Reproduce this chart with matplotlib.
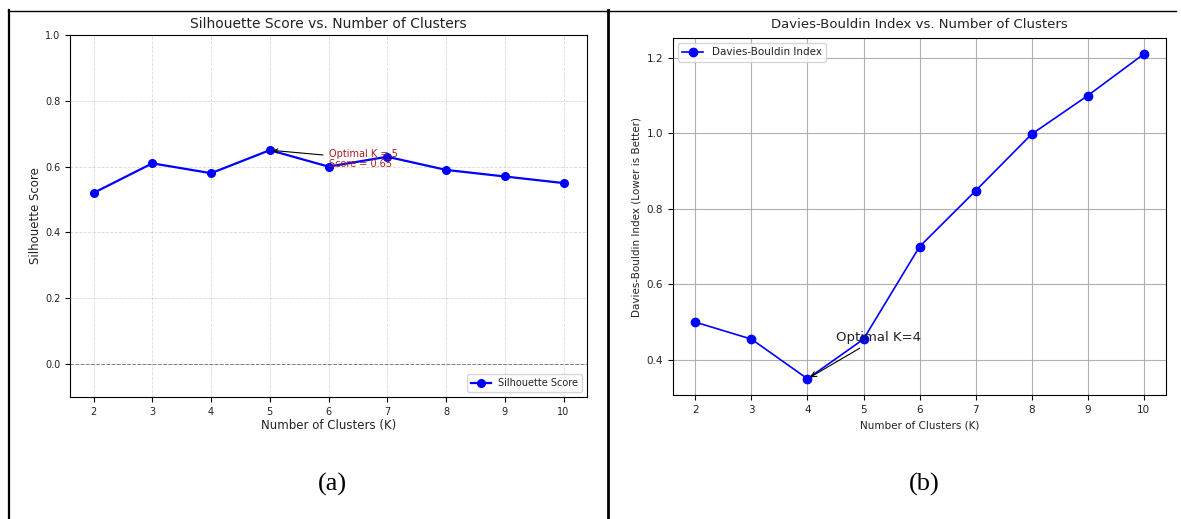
import matplotlib
matplotlib.use('Agg')
import matplotlib.pyplot as plt
from matplotlib.lines import Line2D

# ---- 数据 ----
k_values = [2, 3, 4, 5, 6, 7, 8, 9, 10]
silhouette_scores = [0.52, 0.61, 0.58, 0.65, 0.60, 0.63, 0.59, 0.57, 0.55]
db_scores = [0.50, 0.455, 0.35, 0.455, 0.70, 0.848, 0.998, 1.10, 1.21]
best_k_sil = 5
best_k_db = 4

plt.rcParams['text.color'] = '#222222'
plt.rcParams['axes.labelcolor'] = '#222222'
plt.rcParams['xtick.labelcolor'] = '#222222'
plt.rcParams['ytick.labelcolor'] = '#222222'

fig = plt.figure(figsize=(11.81, 5.19), dpi=100)

# ---- 左图: Silhouette ----
ax1 = fig.add_axes([0.0593, 0.2351, 0.4378, 0.6975])
ax1.plot(k_values, silhouette_scores, marker='o', color='blue', linewidth=1.6,
         markersize=5.5, label='Silhouette Score')
ax1.axhline(0, color='gray', linestyle='--', linewidth=0.7)
ax1.set_ylim(-0.1, 1.0)
ax1.set_xticks(k_values)
ax1.set_title('Silhouette Score vs. Number of Clusters', fontsize=10, pad=5)
ax1.set_xlabel('Number of Clusters (K)', fontsize=8.5, labelpad=2)
ax1.set_ylabel('Silhouette Score', fontsize=8.5, labelpad=2)
ax1.tick_params(labelsize=7)
ax1.grid(True, linestyle='--', alpha=0.45, linewidth=0.6)
best_score = silhouette_scores[k_values.index(best_k_sil)]
ax1.annotate(f'Optimal K = {best_k_sil}\nScore = {best_score:.2f}',
             xy=(best_k_sil, best_score), xytext=(best_k_sil + 1, best_score - 0.05),
             color='#a52020', fontsize=7, linespacing=1.0,
             arrowprops=dict(arrowstyle='->', color='black', linewidth=0.8))
ax1.legend(loc='lower right', fontsize=7)

# ---- 右图: Davies-Bouldin ----
ax2 = fig.add_axes([0.5699, 0.2389, 0.4174, 0.6879])
ax2.plot(k_values, db_scores, marker='o', color='blue', linewidth=1.2,
         markersize=6, label='Davies-Bouldin Index')
ax2.set_xticks(k_values)
ax2.set_title('Davies-Bouldin Index vs. Number of Clusters', fontsize=9.5, pad=7)
ax2.set_xlabel('Number of Clusters (K)', fontsize=7.5)
ax2.set_ylabel('Davies-Bouldin Index (Lower is Better)', fontsize=7.5)
ax2.tick_params(labelsize=7.5)
ax2.grid(True)
best_db = db_scores[k_values.index(best_k_db)]
ax2.annotate(f'Optimal K={best_k_db}', xy=(best_k_db, best_db),
             xytext=(best_k_db + 0.5, best_db + 0.1), fontsize=9.5,
             arrowprops=dict(arrowstyle='->', color='black', linewidth=0.8))
ax2.legend(loc='upper left', fontsize=7.5)

# ---- 表格边框 ----
H = 519.0
W = 1181.0
fig.add_artist(Line2D([8 / W, 1176 / W], [1 - 10.5 / H, 1 - 10.5 / H], color='black', linewidth=1.0))
fig.add_artist(Line2D([8.5 / W, 8.5 / W], [0, 1 - 10 / H], color='black', linewidth=1.6))
fig.add_artist(Line2D([607.5 / W, 607.5 / W], [0, 1 - 10 / H], color='black', linewidth=2.0))

# ---- 子图标题 ----
fig.text(332 / W, 1 - 484 / H, '(a)', fontsize=19, family='Liberation Serif', ha='center', va='center', color='black')
fig.text(924 / W, 1 - 484 / H, '(b)', fontsize=19, family='Liberation Serif', ha='center', va='center', color='black')

fig.savefig('out.png', dpi=100)
